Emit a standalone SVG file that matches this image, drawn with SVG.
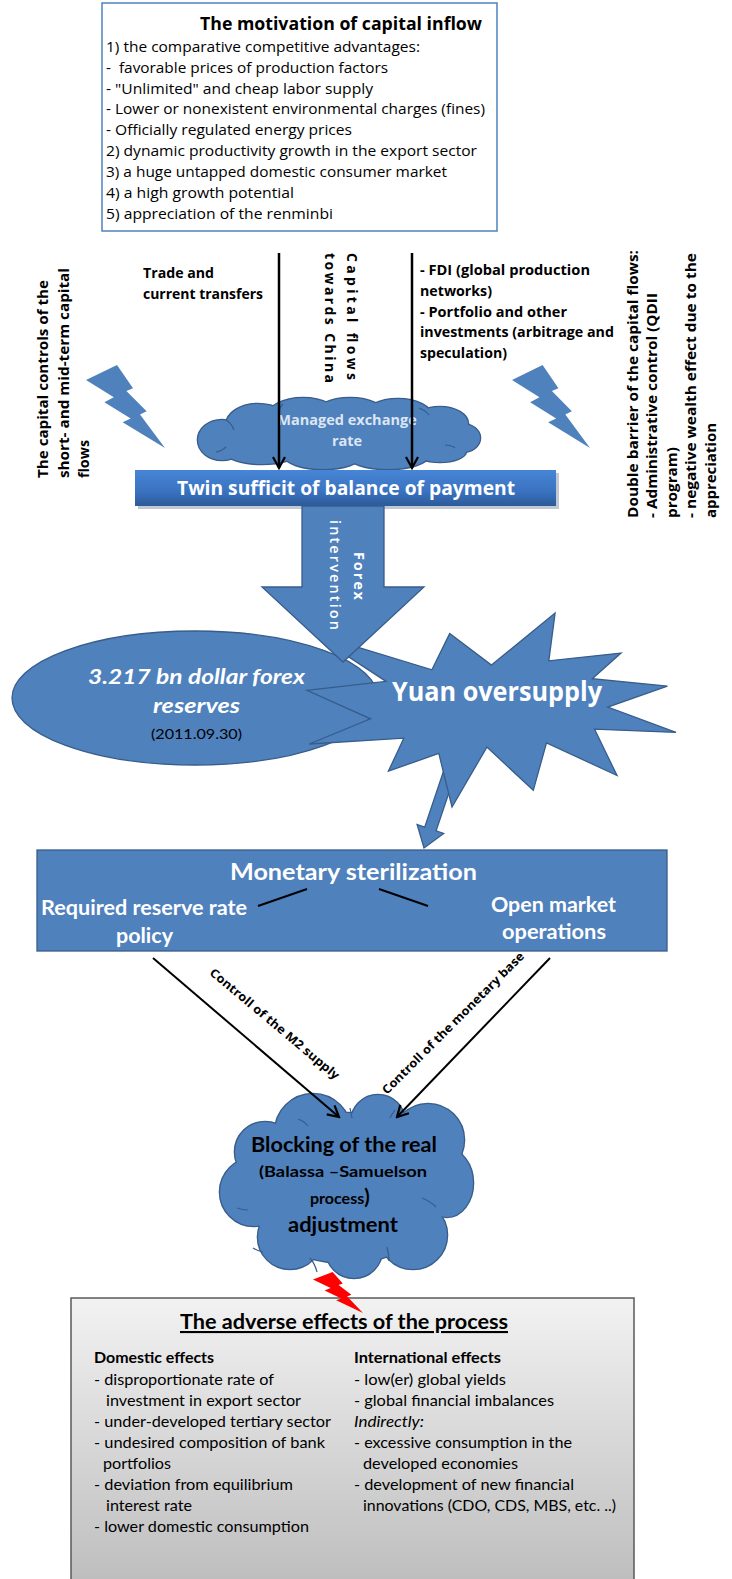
<svg xmlns="http://www.w3.org/2000/svg" xmlns:xlink="http://www.w3.org/1999/xlink" width="732" height="1579" viewBox="0 0 732 1579">
<defs>
<style>
.os{font-family:"Open Sans","Liberation Sans",sans-serif}
.lt{font-family:Lato,"Open Sans","Liberation Sans",sans-serif}
.b{font-weight:700}
.blue{fill:#4F81BD;stroke:#385D8A;stroke-width:1.3}
.w{fill:#FFFFFF}
.k{fill:#000000}
.conn{stroke:#000;fill:none}
.inner{fill:none;stroke:#385D8A;stroke-width:1.2}
</style>
<marker id="ah" markerWidth="14" markerHeight="14" refX="12" refY="7" orient="auto" markerUnits="userSpaceOnUse">
<path d="M1,1 L12,7 L1,13" fill="none" stroke="#000" stroke-width="2.2"/>
</marker>
<linearGradient id="gTwin" x1="0" y1="0" x2="0" y2="1">
<stop offset="0" stop-color="#4785D6"/>
<stop offset="0.6" stop-color="#3A72C0"/>
<stop offset="1" stop-color="#2C5A98"/>
</linearGradient>
<linearGradient id="gBottom" x1="0" y1="0" x2="0" y2="1">
<stop offset="0" stop-color="#F2F2F2"/>
<stop offset="0.94" stop-color="#BEBEBE"/>
<stop offset="1" stop-color="#BBBBBB"/>
</linearGradient>
<g id="cloudTop">
<ellipse cx="222" cy="440" rx="24" ry="20"/>
<ellipse cx="258" cy="425" rx="32" ry="21"/>
<ellipse cx="303" cy="417" rx="36" ry="19"/>
<ellipse cx="350" cy="416" rx="36" ry="18"/>
<ellipse cx="398" cy="417" rx="34" ry="18"/>
<ellipse cx="440" cy="424" rx="28" ry="17"/>
<ellipse cx="462" cy="438" rx="18" ry="14"/>
<ellipse cx="440" cy="451" rx="26" ry="11"/>
<ellipse cx="388" cy="456" rx="40" ry="13"/>
<ellipse cx="323" cy="456" rx="38" ry="13"/>
<ellipse cx="262" cy="452" rx="36" ry="12"/>
<ellipse cx="340" cy="436" rx="125" ry="24"/>
</g>
<g id="cloudBottom">
<circle cx="313" cy="1132" r="38"/>
<circle cx="378" cy="1122" r="27"/>
<circle cx="428" cy="1140" r="36"/>
<ellipse cx="447" cy="1183" rx="26" ry="34"/>
<circle cx="413" cy="1235" r="34"/>
<circle cx="354" cy="1250" r="28"/>
<circle cx="290" cy="1237" r="32"/>
<circle cx="254" cy="1192" r="34"/>
<circle cx="265" cy="1152" r="30"/>
<ellipse cx="346" cy="1188" rx="100" ry="75"/>
</g>
<path id="bolt" d="M8472,0 L0,3890 L7602,8382 L5022,9705 L12222,13897 L10012,14915 L21600,21600 L14767,12877 L16577,12007 L11050,6797 L12860,6080 Z"/>
</defs>

<rect x="0" y="0" width="732" height="1579" fill="#FFFFFF"/>

<g id="motivation-box">
<rect x="102" y="3" width="395" height="228" fill="#FFFFFF" stroke="#4F81BD" stroke-width="1.5"/>
<text class="os b k" x="200" y="30" font-size="17" textLength="282" lengthAdjust="spacingAndGlyphs">The motivation of capital inflow</text>
<g class="os k" font-size="14">
<text x="106" y="52" textLength="314" lengthAdjust="spacingAndGlyphs">1) the comparative competitive advantages:</text>
<text x="106" y="73" textLength="282" lengthAdjust="spacingAndGlyphs">- &#160;favorable prices of production factors</text>
<text x="106" y="94" textLength="267" lengthAdjust="spacingAndGlyphs">- "Unlimited" and cheap labor supply</text>
<text x="106" y="114" textLength="379" lengthAdjust="spacingAndGlyphs">- Lower or nonexistent environmental charges (fines)</text>
<text x="106" y="135" textLength="246" lengthAdjust="spacingAndGlyphs">- Officially regulated energy prices</text>
<text x="106" y="156" textLength="371" lengthAdjust="spacingAndGlyphs">2) dynamic productivity growth in the export sector</text>
<text x="106" y="177" textLength="341" lengthAdjust="spacingAndGlyphs">3) a huge untapped domestic consumer market</text>
<text x="106" y="198" textLength="188" lengthAdjust="spacingAndGlyphs">4) a high growth potential</text>
<text x="106" y="219" textLength="227" lengthAdjust="spacingAndGlyphs">5) appreciation of the renminbi</text>
</g>
</g>

<g id="trade-label" class="os b k" font-size="14">
<text x="143" y="278" textLength="71" lengthAdjust="spacingAndGlyphs">Trade and</text>
<text x="143" y="299" textLength="120" lengthAdjust="spacingAndGlyphs">current transfers</text>
</g>

<g id="capital-flows-label" class="os b k" font-size="14">
<text transform="translate(347,253) rotate(90)" textLength="127" lengthAdjust="spacing">Capital flows</text>
<text transform="translate(325,253) rotate(90)" textLength="130" lengthAdjust="spacing">towards China</text>
</g>

<g id="fdi-label" class="os b k" font-size="14">
<text x="420" y="275" textLength="170" lengthAdjust="spacingAndGlyphs">- FDI (global production</text>
<text x="420" y="296" textLength="72" lengthAdjust="spacingAndGlyphs">networks)</text>
<text x="420" y="317" textLength="147" lengthAdjust="spacingAndGlyphs">- Portfolio and other</text>
<text x="420" y="337" textLength="194" lengthAdjust="spacingAndGlyphs">investments (arbitrage and</text>
<text x="420" y="358" textLength="87" lengthAdjust="spacingAndGlyphs">speculation)</text>
</g>

<g id="capital-controls">
<use xlink:href="#bolt" class="blue" transform="translate(86,365) scale(0.003657,0.003843)" style="stroke-width:1.3;vector-effect:non-scaling-stroke"/>
<g class="os b k" font-size="14.5">
<text transform="translate(48,478) rotate(-90)" textLength="198" lengthAdjust="spacingAndGlyphs">The capital controls of the</text>
<text transform="translate(69,478) rotate(-90)" textLength="210" lengthAdjust="spacingAndGlyphs">short- and mid-term capital</text>
<text transform="translate(89,478) rotate(-90)" textLength="38" lengthAdjust="spacingAndGlyphs">flows</text>
</g>
</g>

<g id="double-barrier">
<use xlink:href="#bolt" class="blue" transform="translate(512,365) scale(0.003611,0.003843)" style="stroke-width:1.3;vector-effect:non-scaling-stroke"/>
<g class="os b k" font-size="14.5">
<text transform="translate(638,518) rotate(-90)" textLength="268" lengthAdjust="spacingAndGlyphs">Double barrier of the capital flows:</text>
<text transform="translate(657,518) rotate(-90)" textLength="225" lengthAdjust="spacingAndGlyphs">- Administrative control (QDII</text>
<text transform="translate(677,518) rotate(-90)" textLength="71" lengthAdjust="spacingAndGlyphs">program)</text>
<text transform="translate(696,518) rotate(-90)" textLength="265" lengthAdjust="spacingAndGlyphs">- negative wealth effect due to the</text>
<text transform="translate(716,518) rotate(-90)" textLength="95" lengthAdjust="spacingAndGlyphs">appreciation</text>
</g>
</g>

<g id="managed-exchange-cloud">
<use xlink:href="#cloudTop" fill="#4F81BD" stroke="#385D8A" stroke-width="2.6"/>
<use xlink:href="#cloudTop" fill="#4F81BD" stroke="none"/>
<path class="inner" d="M226,420 q6,4 8,10 M283,404 q-4,4 -4,9 M419,408 q6,2 10,7 M216,452 q6,-1 10,-5 M455,448 q-4,-3 -10,-3"/>
<text class="os b" fill="#DCE6F2" font-size="14.5" x="347" y="425" text-anchor="middle">Managed exchange</text>
<text class="os b" fill="#DCE6F2" font-size="14.5" x="347" y="446" text-anchor="middle">rate</text>
</g>

<g id="twin-box">
<rect x="138" y="473" width="421" height="36" fill="#8E9BB0" opacity="0.55"/>
<rect x="135" y="470" width="421" height="36" fill="url(#gTwin)"/>
<text class="os b w" font-size="19" x="177" y="495" textLength="338" lengthAdjust="spacingAndGlyphs">Twin sufficit of balance of payment</text>
</g>

<g id="reserves-ellipse">
<ellipse cx="195" cy="698" rx="183" ry="67" class="blue"/>
<text class="lt b w" font-style="italic" font-size="21" x="88" y="684" textLength="217" lengthAdjust="spacingAndGlyphs">3.217 bn dollar forex</text>
<text class="lt b w" font-style="italic" font-size="21" x="153" y="713" textLength="87" lengthAdjust="spacingAndGlyphs">reserves</text>
<text class="lt k" font-size="14" x="151" y="739" textLength="91" lengthAdjust="spacingAndGlyphs">(2011.09.30)</text>
</g>

<g id="oversupply-arrow">
<polygon class="blue" points="455.9,772 436.1,830.9 443.7,833.5 424,848 417.1,824.5 424.7,827.1 444.5,768.2"/>
</g>

<g id="yuan-star">
<polygon class="blue" points="491.5,665.1 555.1,613 548.8,660.8 621,653 592.3,678.7 667.4,686.1 607.8,707.1 676,732.4 594.6,729.2 617,775.5 546.5,742.8 533.3,790.3 486.9,747.1 452,807 438.8,753.4 388.4,771.2 403.8,738.2 309.3,744 370.6,718.8 307,690.4 386,681.4 313.3,633.6 431.9,669.8 449.7,633.6"/>
<text class="os b w" font-size="26" x="392" y="701" textLength="210" lengthAdjust="spacingAndGlyphs">Yuan oversupply</text>
</g>

<g id="forex-arrow">
<polygon class="blue" points="302,506 384,506 384,587 424,587 343,662 262,587 302,587"/>
<text class="os b w" font-size="14.5" transform="translate(354,552) rotate(90)" textLength="48" lengthAdjust="spacing">Forex</text>
<text class="os w" font-weight="600" font-size="14.5" transform="translate(330,520) rotate(90)" textLength="110" lengthAdjust="spacing">intervention</text>
</g>

<g id="monetary-box">
<rect x="37" y="850" width="630" height="101" class="blue"/>
<text class="lt b w" font-size="23" x="230" y="880" textLength="247" lengthAdjust="spacingAndGlyphs">Monetary sterilization</text>
<text class="lt b w" font-size="20" x="41" y="915" textLength="206" lengthAdjust="spacingAndGlyphs">Required reserve rate</text>
<text class="lt b w" font-size="20" x="116" y="943" textLength="57" lengthAdjust="spacingAndGlyphs">policy</text>
<text class="lt b w" font-size="20" x="491" y="912" textLength="125" lengthAdjust="spacingAndGlyphs">Open market</text>
<text class="lt b w" font-size="20" x="502" y="939" textLength="104" lengthAdjust="spacingAndGlyphs">operations</text>
<line x1="258" y1="906" x2="307" y2="889" stroke="#000" stroke-width="2"/>
<line x1="379" y1="889" x2="428" y2="906" stroke="#000" stroke-width="2"/>
</g>

<g id="blocking-cloud">
<use xlink:href="#cloudBottom" fill="#4F81BD" stroke="#385D8A" stroke-width="2.6"/>
<use xlink:href="#cloudBottom" fill="#4F81BD" stroke="none"/>
<path class="inner" d="M298,1119 q6,2 10,7 M350,1108 q1,5 2,10 M395,1110 q-3,4 -5,8 M422,1198 q8,3 14,9 M310,1258 q5,6 7,14 M387,1247 q2,7 2,14 M253,1248 q5,3 10,4 M237,1208 q6,2 11,2"/>
<text class="lt b k" font-size="20" x="251" y="1152" textLength="186" lengthAdjust="spacingAndGlyphs">Blocking of the real</text>
<text class="lt b k" font-size="16" x="259" y="1177" textLength="168" lengthAdjust="spacingAndGlyphs">(Balassa –Samuelson</text>
<text class="lt b k" font-size="16" x="310" y="1204">process<tspan font-size="20">)</tspan></text>
<text class="lt b k" font-size="20" x="288" y="1232" textLength="110" lengthAdjust="spacingAndGlyphs">adjustment</text>
</g>

<g id="adverse-box">
<rect x="71" y="1298" width="563" height="300" fill="url(#gBottom)" stroke="#595959" stroke-width="1.5"/>
<text class="lt b k" font-size="21" x="180" y="1329" textLength="328" lengthAdjust="spacingAndGlyphs" text-decoration="underline">The adverse effects of the process</text>
<g class="lt k" font-size="15">
<text class="b" x="94" y="1363" textLength="120" lengthAdjust="spacingAndGlyphs">Domestic effects</text>
<text x="94" y="1385" textLength="180" lengthAdjust="spacingAndGlyphs">- disproportionate rate of</text>
<text x="106" y="1406" textLength="195" lengthAdjust="spacingAndGlyphs">investment in export sector</text>
<text x="94" y="1427" textLength="237" lengthAdjust="spacingAndGlyphs">- under-developed tertiary sector</text>
<text x="94" y="1448" textLength="231" lengthAdjust="spacingAndGlyphs">- undesired composition of bank</text>
<text x="103" y="1469" textLength="68" lengthAdjust="spacingAndGlyphs">portfolios</text>
<text x="94" y="1490" textLength="199" lengthAdjust="spacingAndGlyphs">- deviation from equilibrium</text>
<text x="106" y="1511" textLength="86" lengthAdjust="spacingAndGlyphs">interest rate</text>
<text x="94" y="1532" textLength="215" lengthAdjust="spacingAndGlyphs">- lower domestic consumption</text>
<text class="b" x="354" y="1363" textLength="147" lengthAdjust="spacingAndGlyphs">International effects</text>
<text x="354" y="1385" textLength="152" lengthAdjust="spacingAndGlyphs">- low(er) global yields</text>
<text x="354" y="1406" textLength="200" lengthAdjust="spacingAndGlyphs">- global financial imbalances</text>
<text x="354" y="1427" font-style="italic" textLength="70" lengthAdjust="spacingAndGlyphs">Indirectly:</text>
<text x="354" y="1448" textLength="218" lengthAdjust="spacingAndGlyphs">- excessive consumption in the</text>
<text x="363" y="1469" textLength="155" lengthAdjust="spacingAndGlyphs">developed economies</text>
<text x="354" y="1490" textLength="220" lengthAdjust="spacingAndGlyphs">- development of new financial</text>
<text x="363" y="1511" textLength="253" lengthAdjust="spacingAndGlyphs">innovations (CDO, CDS, MBS, etc. ..)</text>
</g>
</g>

<g id="red-bolt">
<use xlink:href="#bolt" fill="#FF0000" stroke="#4F81BD" transform="translate(313,1272) scale(0.002315,0.001898)" style="stroke-width:1.2;vector-effect:non-scaling-stroke"/>
</g>

<g id="connectors">
<line class="conn" x1="279" y1="253" x2="279" y2="468" stroke-width="2.5" marker-end="url(#ah)"/>
<line class="conn" x1="412" y1="253" x2="412" y2="468" stroke-width="2.5" marker-end="url(#ah)"/>
<line class="conn" x1="153" y1="958" x2="339" y2="1117" stroke-width="2" marker-end="url(#ah)"/>
<line class="conn" x1="550" y1="958" x2="397" y2="1117" stroke-width="2" marker-end="url(#ah)"/>
<text class="os k b" font-size="12" text-anchor="middle" transform="translate(272,1027) rotate(40)" textLength="165" lengthAdjust="spacingAndGlyphs">Controll of the M2 supply</text>
<text class="os k b" font-size="12" text-anchor="middle" transform="translate(456,1026) rotate(-45)" textLength="195" lengthAdjust="spacingAndGlyphs">Controll of the monetary base</text>
</g>
</svg>
